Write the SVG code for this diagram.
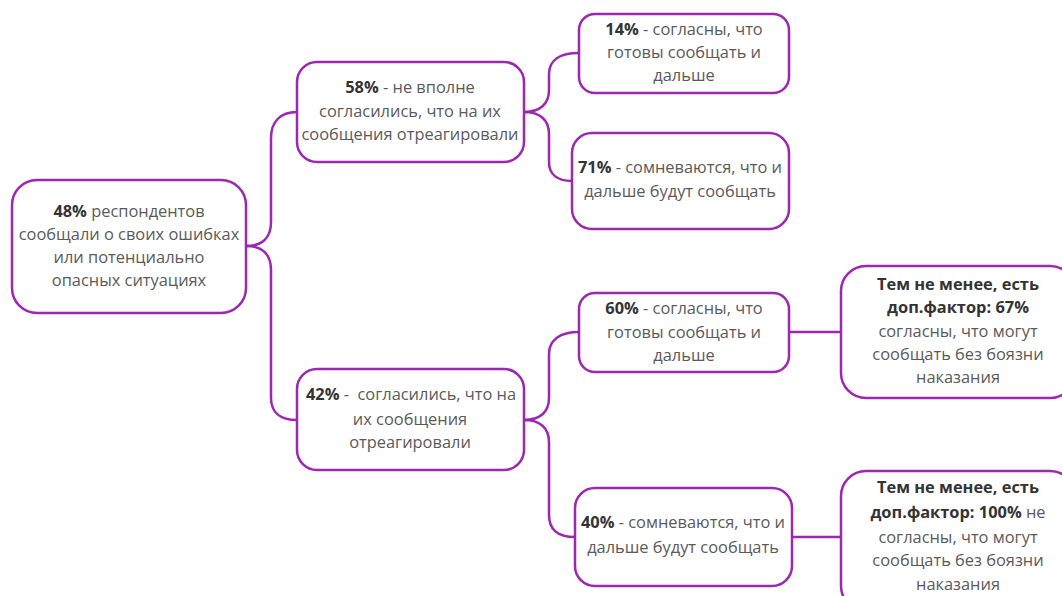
<svg xmlns="http://www.w3.org/2000/svg" width="1062" height="596" viewBox="0 0 1062 596">
<style>
.box{fill:#fff;stroke:#9c27b0;stroke-width:2.5}
.con{fill:none;stroke:#9c27b0;stroke-width:2.5}
text{font-family:"Open Sans","Noto Sans","Liberation Sans",sans-serif;font-size:16.4px;fill:#5a5a5a;text-anchor:middle}
.b{font-weight:bold;fill:#333}
</style>
<rect width="1062" height="596" fill="#fff"/>
<g id="connectors">
<path class="con" d="M246,246 C262,246 271,238 271,222 L271,138 C271,122 280,112 297,112"/>
<path class="con" d="M246,246 C262,246 271,254 271,270 L271,398 C271,412 280,420 297,420"/>
<path class="con" d="M524,112 C540,112 549,104 549,90 L549,74 C549,60 560,53 579,53"/>
<path class="con" d="M524,112 C540,112 549,120 549,134 L549,162 C549,175 558,181 572,181"/>
<path class="con" d="M524,420 C540,420 549,412 549,398 L549,354 C549,340 560,332 579,332"/>
<path class="con" d="M524,420 C540,420 549,428 549,442 L549,515 C549,530 558,537 575,537"/>
<path class="con" d="M789,332 L841,332"/>
<path class="con" d="M792,537 L841,537"/>
</g>
<g id="root">
<rect class="box" x="12" y="180" width="234" height="133" rx="25"/>
<text x="129" y="217"><tspan class="b">48%</tspan> респондентов</text>
<text x="129" y="240">сообщали о своих ошибках</text>
<text x="129" y="263">или потенциально</text>
<text x="129" y="286">опасных ситуациях</text>
</g>
<g id="n58">
<rect class="box" x="297" y="62" width="227" height="100" rx="20"/>
<text x="410" y="93"><tspan class="b">58%</tspan> - не вполне</text>
<text x="410" y="117">согласились, что на их</text>
<text x="410" y="140">сообщения отреагировали</text>
</g>
<g id="n14">
<rect class="box" x="579" y="14" width="210" height="79" rx="16"/>
<text x="684" y="35"><tspan class="b">14%</tspan> - согласны, что</text>
<text x="684" y="58">готовы сообщать и</text>
<text x="684" y="81">дальше</text>
</g>
<g id="n71">
<rect class="box" x="572" y="133" width="217" height="96" rx="20"/>
<text x="680" y="173"><tspan class="b">71%</tspan> - сомневаются, что и</text>
<text x="680" y="197">дальше будут сообщать</text>
</g>
<g id="n42">
<rect class="box" x="297" y="369" width="227" height="101" rx="20"/>
<text x="411" y="400"><tspan class="b">42%</tspan> -&#160; согласились, что на</text>
<text x="410" y="425">их сообщения</text>
<text x="410" y="448">отреагировали</text>
</g>
<g id="n60">
<rect class="box" x="579" y="293" width="210" height="79" rx="16"/>
<text x="684" y="314"><tspan class="b">60%</tspan> - согласны, что</text>
<text x="684" y="338">готовы сообщать и</text>
<text x="684" y="361">дальше</text>
</g>
<g id="n67">
<rect class="box" x="841" y="266" width="234" height="132" rx="25"/>
<text x="958" y="290" class="b">Тем не менее, есть</text>
<text x="958" y="313" class="b">доп.фактор: 67%</text>
<text x="958" y="337">согласны, что могут</text>
<text x="958" y="360">сообщать без боязни</text>
<text x="958" y="383">наказания</text>
</g>
<g id="n40">
<rect class="box" x="575" y="488" width="217" height="98" rx="20"/>
<text x="683" y="528"><tspan class="b">40%</tspan> - сомневаются, что и</text>
<text x="683" y="553">дальше будут сообщать</text>
</g>
<g id="n100">
<rect class="box" x="841" y="471" width="234" height="140" rx="25"/>
<text x="958" y="493" class="b">Тем не менее, есть</text>
<text x="958" y="518"><tspan class="b">доп.фактор: 100%</tspan> не</text>
<text x="958" y="543">согласны, что могут</text>
<text x="958" y="566">сообщать без боязни</text>
<text x="958" y="590">наказания</text>
</g>
</svg>
